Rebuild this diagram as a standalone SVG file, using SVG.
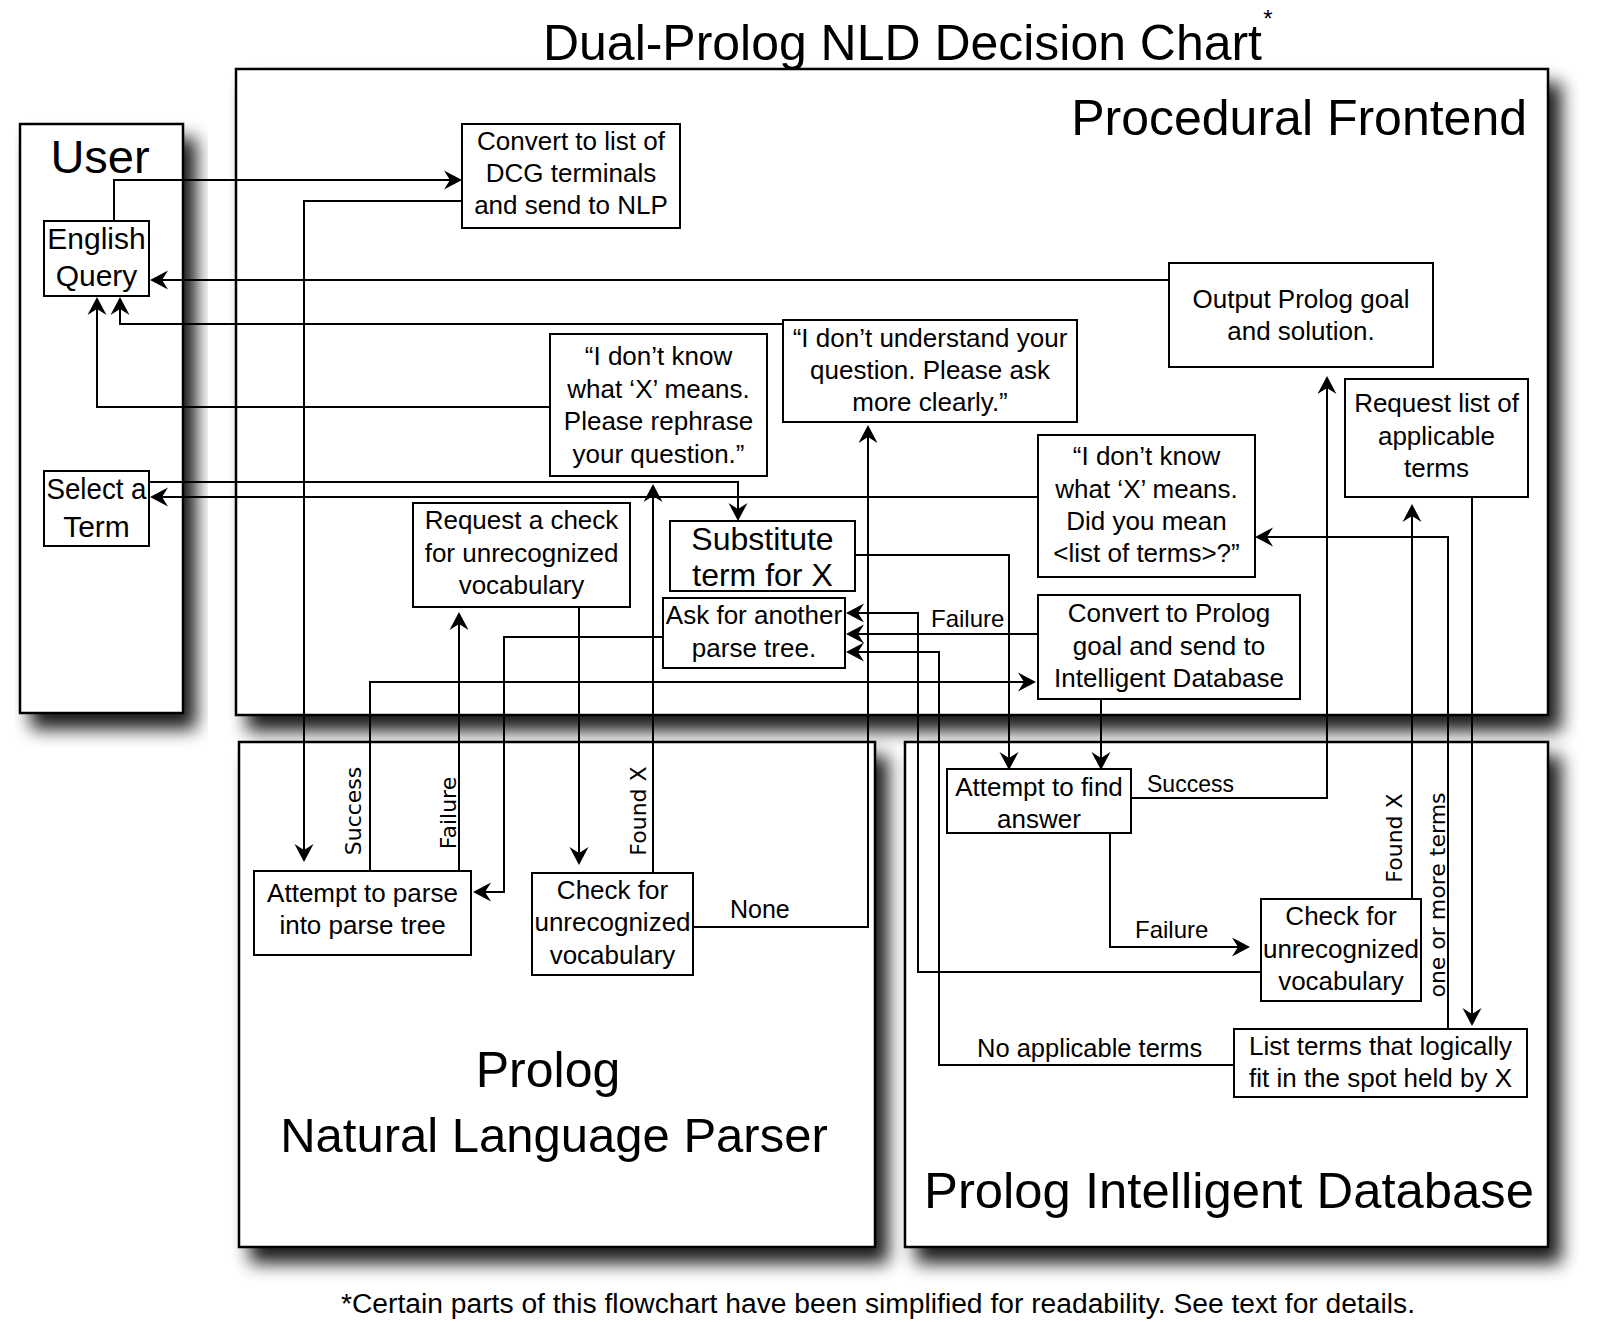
<svg xmlns="http://www.w3.org/2000/svg" width="1600" height="1322" viewBox="0 0 1600 1322">
<defs>
<style>
.cont{fill:#fff;stroke:#000;stroke-width:2.5;filter:url(#sh)}
.box{fill:#fff;stroke:#000;stroke-width:2}
.t{font-family:"Liberation Sans",Arial,sans-serif;fill:#000}
.bt{font-family:"Liberation Sans",Arial,sans-serif;font-size:26px;text-anchor:middle;fill:#000}
.bt.l{font-size:30px}
.bt.s{font-size:32px}
.big{font-family:"Liberation Sans",Arial,sans-serif;font-size:50px;fill:#000}
.lbl{font-family:"Liberation Sans",Arial,sans-serif;font-size:24px;fill:#000}
.rl{font-family:"DejaVu Sans",Verdana,sans-serif;font-size:22px;text-anchor:middle;fill:#000}
.c{fill:none;stroke:#000;stroke-width:2;marker-end:url(#ah)}
</style>
<filter id="sh" x="-10%" y="-10%" width="125%" height="125%">
<feGaussianBlur in="SourceAlpha" stdDeviation="9"/>
<feOffset dx="12" dy="15" result="b"/>
<feComponentTransfer><feFuncA type="linear" slope="0.9"/></feComponentTransfer>
<feMerge><feMergeNode/><feMergeNode in="SourceGraphic"/></feMerge>
</filter>
<marker id="ah" viewBox="-20 -12 26 24" markerWidth="26" markerHeight="24" refX="0" refY="0" orient="auto" markerUnits="userSpaceOnUse">
<path d="M4,0 L-14,-9.5 L-8,0 L-14,9.5 Z" fill="#000"/>
</marker>
</defs>
<rect width="1600" height="1322" fill="#fff"/>

<text class="big" x="543" y="60" textLength="719" lengthAdjust="spacingAndGlyphs">Dual-Prolog NLD Decision Chart</text>
<text class="t" x="1268" y="27" font-size="24" text-anchor="middle">*</text>

<g id="user">
<rect class="cont" x="20" y="124" width="163" height="589"/>
<text class="t" x="100" y="173" font-size="47" text-anchor="middle">User</text>
</g>
<g id="frontend">
<rect class="cont" x="236" y="69" width="1312" height="646"/>
<text class="big" x="1527" y="135" text-anchor="end">Procedural Frontend</text>
</g>
<g id="parser">
<rect class="cont" x="239" y="742" width="636" height="505"/>
<text class="big" x="548" y="1087" text-anchor="middle">Prolog</text>
<text class="big" x="554" y="1152" text-anchor="middle" style="font-size:49px">Natural Language Parser</text>
</g>
<g id="database">
<rect class="cont" x="905" y="742" width="643" height="505"/>
<text class="big" x="924" y="1208" textLength="610" lengthAdjust="spacingAndGlyphs">Prolog Intelligent Database</text>
</g>

<g id="english-query">
<rect class="box" x="44" y="221" width="105" height="75"/>
<text class="bt l" x="96.5" y="249">English</text>
<text class="bt l" x="96.5" y="286">Query</text>
</g>
<g id="select-term">
<rect class="box" x="44" y="471" width="105" height="75"/>
<text class="bt l" x="96.5" y="499" textLength="100" lengthAdjust="spacingAndGlyphs">Select a</text>
<text class="bt l" x="96.5" y="537">Term</text>
</g>
<g id="convert-dcg">
<rect class="box" x="462" y="124" width="218" height="104"/>
<text class="bt" x="571" y="150">Convert to list of</text>
<text class="bt" x="571" y="182">DCG terminals</text>
<text class="bt" x="571" y="214">and send to NLP</text>
</g>
<g id="output-goal">
<rect class="box" x="1169" y="263" width="264" height="104"/>
<text class="bt" x="1301" y="308">Output Prolog goal</text>
<text class="bt" x="1301" y="340">and solution.</text>
</g>
<g id="dont-understand">
<rect class="box" x="783" y="320" width="294" height="102"/>
<text class="bt" x="930" y="347">“I don’t understand your</text>
<text class="bt" x="930" y="379">question. Please ask</text>
<text class="bt" x="930" y="411">more clearly.”</text>
</g>
<g id="dont-know-rephrase">
<rect class="box" x="550" y="334" width="217" height="142"/>
<text class="bt" x="658.5" y="365">“I don’t know</text>
<text class="bt" x="658.5" y="398">what ‘X’ means.</text>
<text class="bt" x="658.5" y="430">Please rephrase</text>
<text class="bt" x="658.5" y="463">your question.”</text>
</g>
<g id="request-list">
<rect class="box" x="1345" y="379" width="183" height="118"/>
<text class="bt" x="1436.5" y="412">Request list of</text>
<text class="bt" x="1436.5" y="445">applicable</text>
<text class="bt" x="1436.5" y="477">terms</text>
</g>
<g id="dont-know-did-you-mean">
<rect class="box" x="1038" y="435" width="217" height="142"/>
<text class="bt" x="1146.5" y="465">“I don’t know</text>
<text class="bt" x="1146.5" y="498">what ‘X’ means.</text>
<text class="bt" x="1146.5" y="530">Did you mean</text>
<text class="bt" x="1146.5" y="562">&lt;list of terms&gt;?”</text>
</g>
<g id="request-check">
<rect class="box" x="413" y="503" width="217" height="104"/>
<text class="bt" x="521.5" y="529">Request a check</text>
<text class="bt" x="521.5" y="562">for unrecognized</text>
<text class="bt" x="521.5" y="594">vocabulary</text>
</g>
<g id="substitute">
<rect class="box" x="670" y="521" width="185" height="70"/>
<text class="bt s" x="762.5" y="550">Substitute</text>
<text class="bt s" x="762.5" y="586">term for X</text>
</g>
<g id="ask-another">
<rect class="box" x="663" y="598" width="182" height="70"/>
<text class="bt" x="754" y="624">Ask for another</text>
<text class="bt" x="754" y="657">parse tree.</text>
</g>
<g id="convert-prolog">
<rect class="box" x="1038" y="595" width="262" height="104"/>
<text class="bt" x="1169" y="622">Convert to Prolog</text>
<text class="bt" x="1169" y="655">goal and send to</text>
<text class="bt" x="1169" y="687">Intelligent Database</text>
</g>
<g id="attempt-find">
<rect class="box" x="947" y="769" width="184" height="64"/>
<text class="bt" x="1039" y="796">Attempt to find</text>
<text class="bt" x="1039" y="828">answer</text>
</g>
<g id="attempt-parse">
<rect class="box" x="254" y="871" width="217" height="84"/>
<text class="bt" x="362.5" y="902">Attempt to parse</text>
<text class="bt" x="362.5" y="934">into parse tree</text>
</g>
<g id="check-nlp">
<rect class="box" x="532" y="873" width="161" height="102"/>
<text class="bt" x="612.5" y="899">Check for</text>
<text class="bt" x="612.5" y="931">unrecognized</text>
<text class="bt" x="612.5" y="964">vocabulary</text>
</g>
<g id="check-db">
<rect class="box" x="1261" y="899" width="160" height="102"/>
<text class="bt" x="1341" y="925">Check for</text>
<text class="bt" x="1341" y="958">unrecognized</text>
<text class="bt" x="1341" y="990">vocabulary</text>
</g>
<g id="list-terms">
<rect class="box" x="1234" y="1029" width="293" height="68"/>
<text class="bt" x="1380.5" y="1055">List terms that logically</text>
<text class="bt" x="1380.5" y="1087">fit in the spot held by X</text>
</g>

<g id="connectors">
<path class="c" d="M114,221 V180 H458"/>
<path class="c" d="M462,201 H304 V858"/>
<path class="c" d="M1169,280 H154"/>
<path class="c" d="M783,324 H120 V301"/>
<path class="c" d="M550,407 H97 V301"/>
<path class="c" d="M149,482 H738 V517"/>
<path class="c" d="M1038,497 H154"/>
<path class="c" d="M653,873 V488"/>
<path class="c" d="M370,871 V682 H1032"/>
<path class="c" d="M459,871 V616"/>
<path class="c" d="M579,607 V861"/>
<path class="c" d="M663,637 H504 V892 H477"/>
<path class="c" d="M693,927 H868 V429"/>
<path class="c" d="M855,555 H1009 V766"/>
<path class="c" d="M1101,699 V766"/>
<path class="c" d="M1131,798 H1327 V380"/>
<path class="c" d="M1110,833 V947 H1246"/>
<path class="c" d="M1261,972 H918 V613 H850"/>
<path class="c" d="M1038,634 H850"/>
<path class="c" d="M1234,1065 H939 V652 H850"/>
<path class="c" d="M1412,899 V508"/>
<path class="c" d="M1472,497 V1022"/>
<path class="c" d="M1448,1029 V537 H1259"/>
<text class="rl" x="361" y="811" transform="rotate(-90 361 811)">Success</text>
<text class="rl" x="456" y="813" transform="rotate(-90 456 813)">Failure</text>
<text class="rl" x="646" y="811" transform="rotate(-90 646 811)">Found X</text>
<text class="rl" x="1402" y="838" transform="rotate(-90 1402 838)">Found X</text>
<text class="rl" x="1445" y="895" transform="rotate(-90 1445 895)">one or more terms</text>
<text class="lbl" x="931" y="627">Failure</text>
<text class="lbl" x="730" y="918" style="font-size:25px">None</text>
<text class="lbl" x="1147" y="792" style="font-size:23px">Success</text>
<text class="lbl" x="1135" y="938">Failure</text>
<text class="lbl" x="977" y="1057" style="font-size:25.5px">No applicable terms</text>
</g>

<text class="t" x="341" y="1313" font-size="27" textLength="1074" lengthAdjust="spacingAndGlyphs">*Certain parts of this flowchart have been simplified for readability. See text for details.</text>
</svg>
